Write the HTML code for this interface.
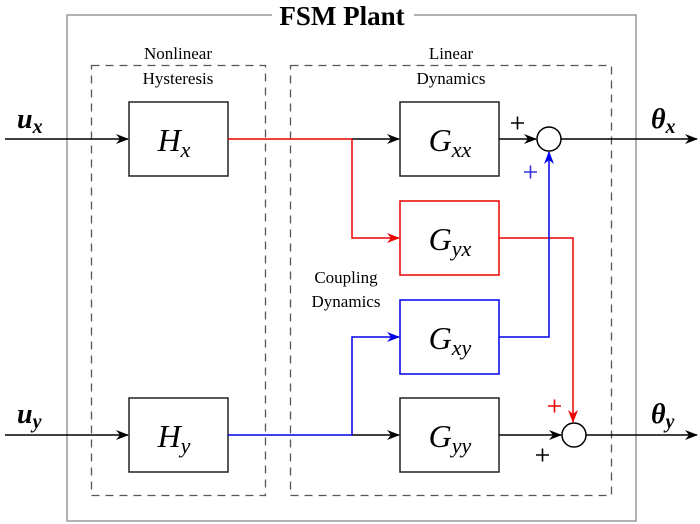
<!DOCTYPE html>
<html><head><meta charset="utf-8"><style>
html,body{margin:0;padding:0;background:#fff;}
svg{display:block;}
.m{font-family:"Liberation Serif","DejaVu Serif",serif;font-style:italic;}
.t{font-family:"Liberation Serif","DejaVu Serif",serif;}
</style></head><body>
<svg width="700" height="524" viewBox="0 0 700 524" xmlns="http://www.w3.org/2000/svg">
<defs>
<marker id="ak" markerWidth="13" markerHeight="10" refX="12" refY="5" orient="auto" markerUnits="userSpaceOnUse"><path d="M0,0 L13,5 L0,10 L4,5 Z" fill="#000"/></marker>
<marker id="ar" markerWidth="13" markerHeight="10" refX="12" refY="5" orient="auto" markerUnits="userSpaceOnUse"><path d="M0,0 L13,5 L0,10 L4,5 Z" fill="#e00"/></marker>
<marker id="ab" markerWidth="13" markerHeight="10" refX="12" refY="5" orient="auto" markerUnits="userSpaceOnUse"><path d="M0,0 L13,5 L0,10 L4,5 Z" fill="#00e"/></marker>
</defs>
<path d="M272,15 L67,15 L67,521 L636,521 L636,15 L414,15" fill="none" stroke="#999" stroke-width="1.5"/>
<text x="342" y="25" text-anchor="middle" class="t" font-weight="bold" font-size="27">FSM Plant</text>
<rect x="91.5" y="65.5" width="174" height="430" fill="none" stroke="#555" stroke-width="1.3" stroke-dasharray="8,6"/>
<rect x="290.5" y="65.5" width="321" height="430" fill="none" stroke="#555" stroke-width="1.3" stroke-dasharray="8,6"/>
<text x="178" y="59" text-anchor="middle" class="t" font-size="17">Nonlinear</text>
<text x="178" y="84" text-anchor="middle" class="t" font-size="17">Hysteresis</text>
<text x="451" y="59" text-anchor="middle" class="t" font-size="17">Linear</text>
<text x="451" y="84" text-anchor="middle" class="t" font-size="17">Dynamics</text>
<text x="346" y="283" text-anchor="middle" class="t" font-size="17">Coupling</text>
<text x="346" y="307" text-anchor="middle" class="t" font-size="17">Dynamics</text>
<g stroke-width="1.5" fill="#fff">
<rect x="129" y="102" width="99" height="74" stroke="#222"/>
<rect x="129" y="398" width="99" height="74" stroke="#222"/>
<rect x="400" y="102" width="99" height="74" stroke="#222"/>
<rect x="400" y="201" width="99" height="74" stroke="#e00"/>
<rect x="400" y="300" width="99" height="74" stroke="#00e"/>
<rect x="400" y="398" width="99" height="74" stroke="#222"/>
</g>
<g class="m" font-size="32" text-anchor="middle">
<text x="174" y="151">H<tspan font-size="22" dy="6">x</tspan></text>
<text x="174" y="447">H<tspan font-size="22" dy="6">y</tspan></text>
<text x="450" y="151">G<tspan font-size="22" dy="6">xx</tspan></text>
<text x="450" y="250">G<tspan font-size="22" dy="6">yx</tspan></text>
<text x="450" y="349">G<tspan font-size="22" dy="6">xy</tspan></text>
<text x="450" y="447">G<tspan font-size="22" dy="6">yy</tspan></text>
</g>
<circle cx="549" cy="139" r="12" fill="#fff" stroke="#000" stroke-width="1.5"/>
<circle cx="574" cy="435" r="12" fill="#fff" stroke="#000" stroke-width="1.5"/>
<g fill="none" stroke-width="1.5">
<line x1="5" y1="139" x2="128" y2="139" stroke="#000" marker-end="url(#ak)"/>
<line x1="5" y1="435" x2="128" y2="435" stroke="#000" marker-end="url(#ak)"/>
<line x1="228" y1="139" x2="352" y2="139" stroke="#e00"/>
<line x1="352" y1="139" x2="399" y2="139" stroke="#000" marker-end="url(#ak)"/>
<polyline points="352,139 352,238 399,238" stroke="#e00" marker-end="url(#ar)"/>
<polyline points="499,238 573,238 573,422" stroke="#e00" marker-end="url(#ar)"/>
<line x1="228" y1="435" x2="352" y2="435" stroke="#00e"/>
<line x1="352" y1="435" x2="399" y2="435" stroke="#000" marker-end="url(#ak)"/>
<polyline points="352,435 352,337 399,337" stroke="#00e" marker-end="url(#ab)"/>
<polyline points="499,337 549,337 549,152" stroke="#00e" marker-end="url(#ab)"/>
<line x1="499" y1="139" x2="536" y2="139" stroke="#000" marker-end="url(#ak)"/>
<line x1="499" y1="435" x2="561" y2="435" stroke="#000" marker-end="url(#ak)"/>
<line x1="561" y1="139" x2="697" y2="139" stroke="#000" marker-end="url(#ak)"/>
<line x1="586" y1="435" x2="697" y2="435" stroke="#000" marker-end="url(#ak)"/>
</g>
<g class="m" font-size="28" font-weight="bold">
<text x="17" y="128">u<tspan font-size="20" dy="5">x</tspan></text>
<text x="17" y="423">u<tspan font-size="20" dy="5">y</tspan></text>
<text x="651" y="128">θ<tspan font-size="20" dy="5">x</tspan></text>
<text x="651" y="423">θ<tspan font-size="20" dy="5">y</tspan></text>
</g>
<g stroke-width="1.6" fill="none">
<path d="M511,123 h13 M517.5,116.5 v13" stroke="#000"/>
<path d="M524,172 h13 M530.5,165.5 v13" stroke="#33d"/>
<path d="M548,406 h13 M554.5,399.5 v13" stroke="#e00"/>
<path d="M536,455 h13 M542.5,448.5 v13" stroke="#000"/>
</g>
</svg>
</body></html>
